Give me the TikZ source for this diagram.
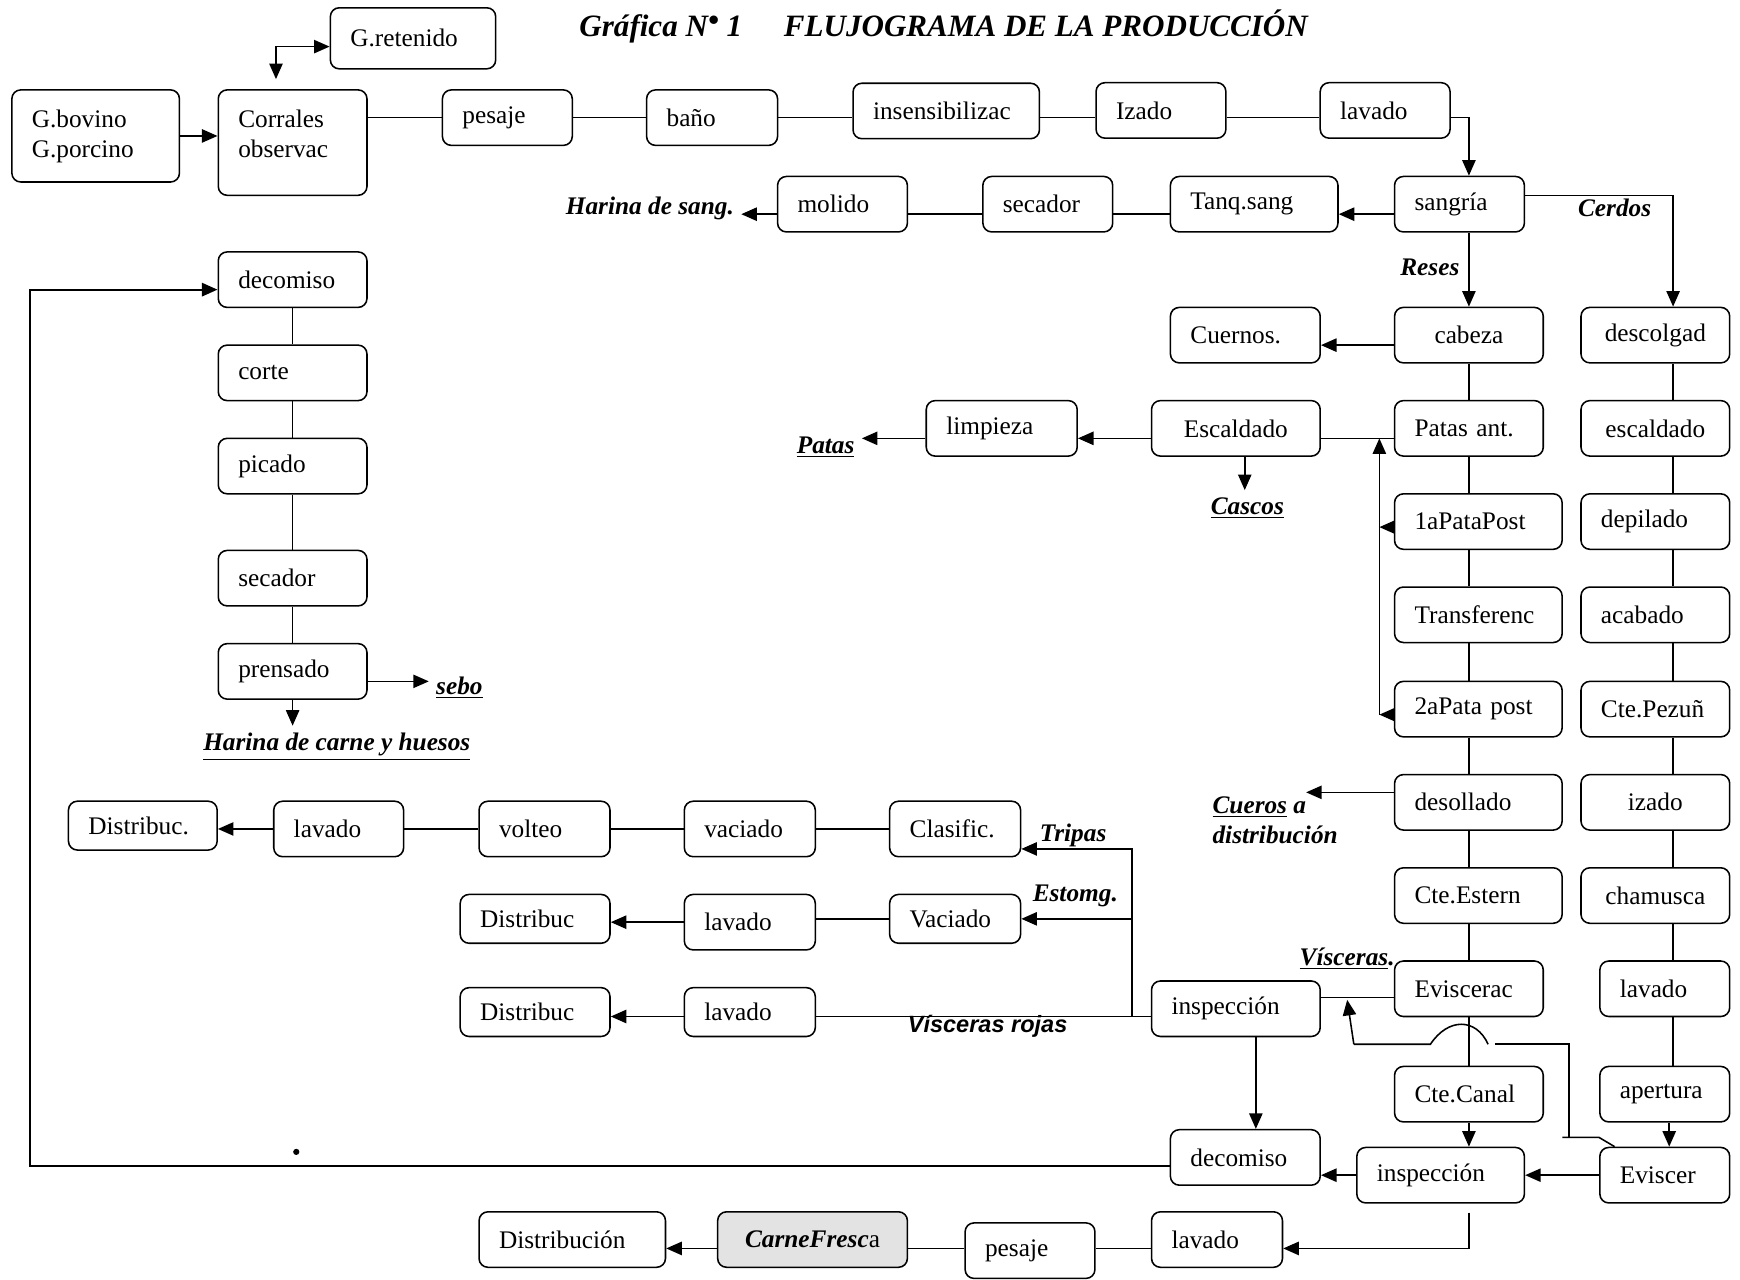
\documentclass[tikz,border=0pt]{standalone}
\usepackage{fontspec}
\setmainfont{Liberation Serif}
\newfontfamily\arialfam{Liberation Sans}
\usepackage{xcolor}
\usepackage{tikz}
\usetikzlibrary{positioning, arrows.meta}

\begin{document}
\begin{tikzpicture}[x=0.5pt, y=-0.5pt, line width=0.7pt,
        >={Triangle[length=7pt,width=6pt]},
        box/.style={draw, fill=white, rounded corners=4pt, anchor=west, inner xsep=9pt,
                    inner ysep=1pt, minimum height=25pt, font=\fontsize{11.4}{13.5}\selectfont},
        lbox/.style={box, text width=#1, align=left},
        cbox/.style={box, minimum width=#1},
        tag/.style={font=\fontsize{11.4}{13.5}\selectfont\bfseries\itshape, inner sep=3pt},
        titulo/.style={font=\fontsize{14}{16}\selectfont\bfseries\itshape, anchor=base}]

        \useasboundingbox (0,0) rectangle (1568,1153);

        \node[titulo]                           (graf)      at (595.5,33)  {Gráfica N\raisebox{.4ex}{\textbullet} 1};
        \node[titulo]                           (flujo)     at (942.5,33)  {FLUJOGRAMA DE LA PRODUCCIÓN};

        \node[lbox=57.5pt, minimum height=41.5pt] (bovino)  at (10,122.5)  {G.bovino\\G.porcino};
        \node[lbox=49pt, minimum height=47.5pt] (corrales)  at (196,128.5) {Corrales\\observac\\[-5.5pt]\mbox{}};
        \node[lbox=56.5pt, minimum height=27.5pt] (retenido) at (297,34.5) {G.retenido};
        \node[lbox=40.5pt]                      (pesaje)    at (398,106)   {pesaje};
        \node[lbox=41pt]                        (bano)      at (582,106)   {baño};
        \node[lbox=66pt]                        (insens)    at (768,100)   {insensibilizac};
        \node[lbox=40.5pt]                      (izado)     at (987,99.5)  {Izado};
        \node[lbox=40.5pt]                      (lavA)      at (1189,99.5) {lavado};

        \node[lbox=40.5pt]                      (molido)    at (700,184)   {molido};
        \node[lbox=40.5pt]                      (secA)      at (885,184)   {secador};
        \node[lbox=57.5pt]                      (tanq)      at (1054,184)  {Tanq.sang};
        \node[lbox=40.5pt]                      (sangria)   at (1256,184)  {sangría};
        \node[tag, anchor=east]                 (harinas)   at (668,188)   {Harina de sang.};
        \node[tag]                              (cerdos)    at (1455,187)  {Cerdos};
        \node[tag]                              (reses)     at (1288.5,241) {Reses};

        \node[lbox=49pt]                        (decA)      at (196,252)   {decomiso};
        \node[lbox=49pt]                        (corte)     at (196,336)   {corte};
        \node[lbox=49pt]                        (picado)    at (196,420)   {picado};
        \node[lbox=49pt]                        (secB)      at (196,521)   {secador};
        \node[lbox=49pt]                        (prensado)  at (196,605)   {prensado};
        \node[tag]                              (sebo)      at (414,620)   {\underline{sebo}};
        \node[tag]                              (harinac)   at (303.5,673) {\underline{Harina de carne y huesos}};

        \node[lbox=49.5pt]                      (cuernos)   at (1054,302)  {Cuernos.};
        \node[cbox=67pt]                        (cabeza)    at (1256,302)  {cabeza};
        \node[cbox=76pt]                        (escA)      at (1037,386)  {Escaldado};
        \node[lbox=50pt]                        (limpieza)  at (834,386)   {limpieza};
        \node[tag]                              (patas)     at (744,403)   {\underline{Patas}};
        \node[tag]                              (cascos)    at (1124,458)  {\underline{Cascos}};
        \node[lbox=49pt]                        (patasant)  at (1256,386)  {Patas ant.};
        \node[lbox=57.5pt]                      (pata1)     at (1256,470)  {1aPataPost};
        \node[lbox=57.5pt]                      (transf)    at (1256,554)  {Transferenc};
        \node[lbox=57.5pt]                      (pata2)     at (1256,639)  {2aPata post};
        \node[lbox=57.5pt]                      (desollado) at (1256,723)  {desollado};
        \node[lbox=57.5pt]                      (estern)    at (1256,807)  {Cte.Estern};
        \node[lbox=49pt]                        (evisc)     at (1256,891)  {Eviscerac};
        \node[lbox=49pt]                        (canal)     at (1256,986)  {Cte.Canal};
        \node[tag, anchor=west, align=left]     (cueros)    at (1086,739)  {\underline{Cueros} a\\distribución};
        \node[tag]                              (visceras)  at (1214,864)  {\underline{Vísceras}.};

        \node[cbox=67pt]                        (descolgad) at (1424,302)  {descolgad};
        \node[cbox=67pt]                        (escB)      at (1424,386)  {escaldado};
        \node[lbox=49pt]                        (depilado)  at (1424,470)  {depilado};
        \node[lbox=49pt]                        (acabado)   at (1424,554)  {acabado};
        \node[lbox=49pt]                        (pezun)     at (1424,639)  {Cte.Pezuñ};
        \node[cbox=67pt]                        (izadoB)    at (1424,723)  {izado};
        \node[cbox=67pt]                        (chamusca)  at (1424,807)  {chamusca};
        \node[lbox=40.5pt]                      (lavB)      at (1441,891)  {lavado};
        \node[lbox=40.5pt]                      (apertura)  at (1441,986)  {apertura};
        \node[lbox=40.5pt]                      (eviscer)   at (1441,1059) {Eviscer};

        \node[lbox=58pt]                        (inspA)     at (1037,909)  {inspección};
        \node[lbox=49.5pt]                      (decB)      at (1054,1043) {decomiso};
        \node[lbox=57.5pt]                      (inspB)     at (1222,1059) {inspección};

        \node[lbox=49pt, minimum height=22pt]   (distT)     at (61,744)    {Distribuc.};
        \node[lbox=40.5pt]                      (lavT)      at (246,747)   {lavado};
        \node[lbox=41pt]                        (volteo)    at (431,747)   {volteo};
        \node[lbox=41pt]                        (vacT)      at (616,747)   {vaciado};
        \node[lbox=41pt]                        (clasific)  at (801,747)   {Clasific.};
        \node[tag]                              (tripas)    at (967,753)   {Tripas};
        \node[lbox=49.5pt, minimum height=22pt] (distE)     at (414,828)   {Distribuc};
        \node[lbox=41pt]                        (lavE)      at (616,831)   {lavado};
        \node[lbox=41pt, minimum height=22pt]   (vacE)      at (801,828)   {Vaciado};
        \node[tag]                              (estomg)    at (969,807)   {Estomg.};
        \node[lbox=49.5pt, minimum height=22pt] (distR)     at (414,912)   {Distribuc};
        \node[lbox=41pt, minimum height=22pt]   (lavR)      at (616,912)   {lavado};
        \node[tag, font=\fontsize{10.6}{12}\selectfont\arialfam\bfseries\itshape] (rojas) at (890,925) {Vísceras rojas};

        \node[lbox=66pt]                        (distF)     at (431,1117)  {Distribución};
        \node[cbox=85.5pt, fill=gray!22]        (carne)     at (646,1117)  {\textbf{\textit{CarneFresc}}a};
        \node[lbox=40.5pt]                      (pesajeB)   at (869,1127)  {pesaje};
        \node[lbox=41pt]                        (lavF)      at (1037,1117) {lavado};

        \coordinate (ret1)      at ([xshift=-6.5pt,yshift=-2.5pt]pata1.west);
        \coordinate (ret2)      at ([xshift=-6.5pt,yshift=-2.5pt]pata2.west);
        \coordinate (rettop)    at (ret2 |- patasant.west);
        \coordinate (cuerosend) at (1177,714);
        \coordinate (vr)        at ([xshift=-8.5pt,yshift=-3.5pt]inspA.west);
        \coordinate (bajada)    at (canal |- inspB.south);
        \coordinate (bordeizq)  at (27,261);
        \coordinate (vcA)       at (1220,941);
        \coordinate (vcTip)     at (1214,901);
        \coordinate (vcB)       at (1289,941);
        \coordinate (vcC)       at (1341,941);
        \coordinate (vcD)       at (1347,941);
        \coordinate (vcE)       at (1414,941);
        \coordinate (vcF)       at (1414,1025);
        \coordinate (vcG)       at (1441,1025);
        \coordinate (vcH)       at (1408,1025);

        % primera fila
        \draw[->]  (bovino.east) -- (bovino.east -| corrales.west);
        \draw[<->] ([xshift=-7.5pt,yshift=4.5pt]corrales.north) |- ([yshift=-3.75pt]retenido.west);
        \draw   (corrales.east |- pesaje.west) -- (pesaje.west)
                (pesaje.east) -- (bano.west)
                (bano.east) -- (bano.east -| insens.west)
                (insens.east |- bano.east) -- (izado.west |- bano.east)
                (izado.east |- bano.east) -- (lavA.west |- bano.east);
        \draw[->]  (lavA.east |- bano.east) -| (cabeza |- sangria.north);

        % sangre
        \draw[->]  ([yshift=-4.5pt]sangria.west) -- ([yshift=-4.5pt]tanq.east);
        \draw   ([yshift=-4.5pt]tanq.west) -- ([yshift=-4.5pt]secA.east)
                ([yshift=-4.5pt]secA.west) -- ([yshift=-4.5pt]molido.east);
        \draw[->]  ([yshift=-4.5pt]molido.west) -- ([yshift=-4.5pt]molido.west -| harinas.east);
        \draw[->]  ([yshift=4pt]sangria.east) -| ([xshift=8pt]descolgad.north);
        \draw[->]  (cabeza |- sangria.south) -- (cabeza.north);

        % reses
        \draw   (cabeza.south) -- (cabeza |- patasant.north)
                (cabeza |- patasant.south) -- (cabeza |- pata1.north)
                (cabeza |- pata1.south) -- (cabeza |- transf.north)
                (cabeza |- transf.south) -- (cabeza |- pata2.north)
                (cabeza |- pata2.south) -- (cabeza |- desollado.north)
                (cabeza |- desollado.south) -- (cabeza |- estern.north)
                (cabeza |- estern.south) -- (cabeza |- evisc.north)
                (cabeza |- evisc.south) -- (cabeza |- canal.north);
        \draw[->]  (canal.south) -- (canal.south |- inspB.north);
        \draw[->]  ([yshift=-4.5pt]cabeza.west) -- ([yshift=-4.5pt]cuernos.east);
        \draw      ([yshift=-4.5pt]patasant.west) -- ([yshift=-4.5pt]escA.east);
        \draw[->]  ([yshift=-4.5pt]escA.west) -- ([yshift=-4.5pt]limpieza.east);
        \draw[->]  ([yshift=-4.5pt]limpieza.west) -- ([yshift=-4.5pt]limpieza.west -| patas.east);
        \draw[->]  ([xshift=4pt]escA.south) -- ([xshift=4pt]escA.south |- cascos.north);
        \draw[->]  ([yshift=-2.5pt]pata1.west) -- (ret1);
        \draw[->]  ([yshift=-2.5pt]pata2.west) -- (ret2);
        \draw[->]  (ret2) -- ([yshift=-4.5pt]rettop);
        \draw[->]  ([yshift=4.5pt]desollado.west) -- (cuerosend);
        \draw      ([yshift=-4pt]evisc.west) -- ([yshift=-4pt]evisc.west -| inspA.east);

        % cerdos
        \draw   ([xshift=8pt]descolgad.south) -- ([xshift=8pt]escB.north)
                ([xshift=8pt]escB.south) -- ([xshift=8pt]depilado.north)
                ([xshift=8pt]depilado.south) -- ([xshift=8pt]acabado.north)
                ([xshift=8pt]acabado.south) -- ([xshift=8pt]pezun.north)
                ([xshift=8pt]pezun.south) -- ([xshift=8pt]izadoB.north)
                ([xshift=8pt]izadoB.south) -- ([xshift=8pt]chamusca.north)
                ([xshift=8pt]chamusca.south) -- ([xshift=8pt]chamusca.south |- lavB.north)
                ([xshift=3.75pt]lavB.south) -- ([xshift=3.75pt]apertura.north);
        \draw[->]  ([xshift=2pt]apertura.south) -- ([xshift=2pt]eviscer.north);
        \draw[->]  (eviscer.west) -- (inspB.east);
        \draw[->]  (inspB.west) -- (inspB.west -| decB.east);
        \draw[->]  (vcA) -- (vcTip);
        \draw      (vcA) -- (vcB) .. controls (1305,917) and (1330,917) .. (vcC);
        \draw      (vcD) -- (vcE) -- (vcF);
        \draw      (vcH) -- (vcG) -- ([xshift=7pt]eviscer.north west);

        % decomiso
        \draw[->]  ([xshift=9pt]inspA.south) -- ([xshift=9pt]inspA.south |- decB.north);
        \draw[->, line width=0.9pt] ([yshift=-4pt]decB.west) -| (bordeizq) -- ([yshift=-4.5pt]decA.west);
        \fill (267,1038) circle (1.4pt);
        \draw   (decA.south) -- (corte.north)
                (corte.south) -- (picado.north)
                (picado.south) -- (secB.north)
                (secB.south) -- (prensado.north);
        \draw[->]  ([yshift=-4.5pt]prensado.east) -- ([yshift=-4.5pt]prensado.east -| sebo.west);
        \draw[->]  (prensado.south) -- (prensado.south |- harinac.north);

        % visceras
        \draw      ([yshift=-3.5pt]inspA.west) -- ([yshift=-3.5pt]inspA.west -| lavR.east);
        \draw[->]  ([yshift=-2pt]lavR.west) -- ([yshift=-2pt]distR.east);
        \draw[->]  (vr) |- ([yshift=-9pt]clasific.east);
        \draw[->]  (vr |- vacE.east) -- (vacE.east);
        \draw   (clasific.west) -- (vacT.east)
                (vacT.west) -- (volteo.east)
                (volteo.west) -- (lavT.east);
        \draw[->]  (lavT.west) -- (lavT.west -| distT.east);
        \draw      (vacE.west) -- (vacE.west -| lavE.east);
        \draw[->]  (lavE.west) -- (lavE.west -| distE.east);

        % carne
        \draw[->]  ([yshift=-4pt]bajada) |- ([yshift=-4pt]lavF.east);
        \draw   ([yshift=-4pt]lavF.west) -- ([yshift=-4pt]lavF.west -| pesajeB.east)
                ([yshift=-4pt]lavF.west -| pesajeB.west) -- ([yshift=-4pt]carne.east);
        \draw[->]  ([yshift=-4pt]carne.west) -- ([yshift=-4pt]distF.east);

\end{tikzpicture}
\end{document}
